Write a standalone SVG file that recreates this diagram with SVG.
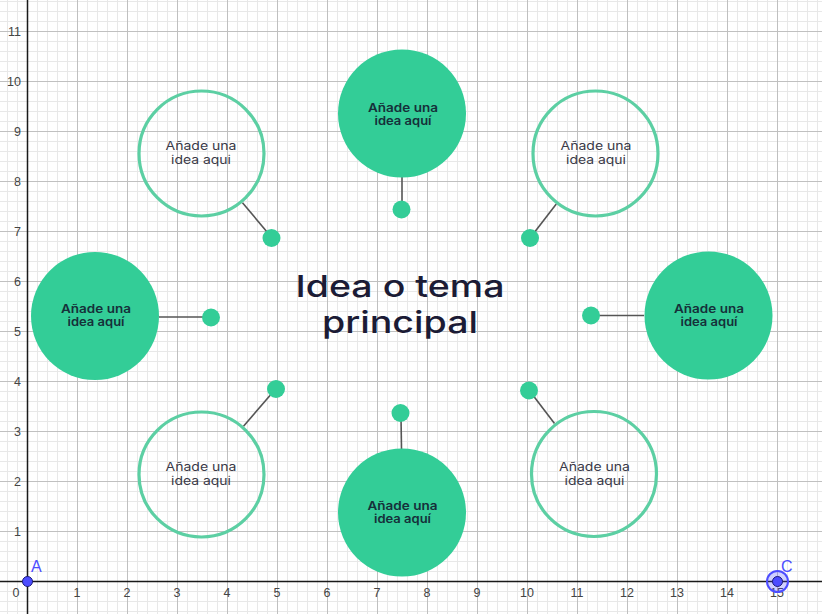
<svg xmlns="http://www.w3.org/2000/svg" width="822" height="614" viewBox="0 0 822 614">
  <style>
    .minor { stroke: #e8e8e8; stroke-width: 1; fill: none; }
    .major { stroke: #c0c0c0; stroke-width: 1; fill: none; }
    .axis { stroke: #1a1a1a; stroke-width: 1.5; }
    .tick { font-family: "Liberation Sans", Arial, sans-serif; font-size: 12.5px; fill: #444; }
    .solid { fill: #33cd97; }
    .ring { fill: none; stroke: #5ccfa3; stroke-width: 3.2; }
    .dot { fill: #33cd97; }
    .conn { stroke: #555; stroke-width: 1.6; fill: none; }
    .t-solid { font-family: Inter, Lato, sans-serif; font-weight: 600; font-size: 11.5px; fill: #16303a; text-anchor: middle; }
    .t-ring { font-family: Inter, Lato, sans-serif; font-weight: 400; font-size: 11.5px; fill: #3a3a48; text-anchor: middle; }
    .title { font-family: Inter, Lato, sans-serif; font-weight: 500; font-size: 30px; fill: #1b1b35; text-anchor: middle; }
    .pt { fill: #4d4dff; stroke: #1a1a7a; stroke-width: 1; }
    .pt-label { font-family: "Liberation Sans", Arial, sans-serif; font-size: 16px; fill: #4d4dff; }
  </style>
  <defs>
    <pattern id="gridMinor" patternUnits="userSpaceOnUse" x="7" y="1" width="10" height="10">
      <path class="minor" d="M0.5 0V10M0 0.5H10"/>
    </pattern>
    <pattern id="gridMajor" patternUnits="userSpaceOnUse" x="27" y="31" width="50" height="50">
      <path class="major" d="M0.5 0V50M0 0.5H50"/>
    </pattern>
  </defs>

  <!-- background grid and axes -->
  <g id="grid">
    <rect width="822" height="614" fill="#ffffff"/>
    <rect width="822" height="614" fill="url(#gridMinor)"/>
    <rect width="822" height="614" fill="url(#gridMajor)"/>
    <line class="axis" x1="0" y1="581.5" x2="822" y2="581.5"/>
    <line class="axis" x1="27.5" y1="0" x2="27.5" y2="614"/>
  </g>

  <g id="axis-labels" class="tick">
    <text x="16" y="597" text-anchor="middle">0</text>
    <g text-anchor="middle">
      <text x="77" y="597">1</text>
      <text x="127" y="597">2</text>
      <text x="177" y="597">3</text>
      <text x="227" y="597">4</text>
      <text x="277" y="597">5</text>
      <text x="327" y="597">6</text>
      <text x="377" y="597">7</text>
      <text x="427" y="597">8</text>
      <text x="477" y="597">9</text>
      <text x="527" y="597">10</text>
      <text x="577" y="597">11</text>
      <text x="627" y="597">12</text>
      <text x="677" y="597">13</text>
      <text x="727" y="597">14</text>
      <text x="777" y="597">15</text>
    </g>
    <g text-anchor="end">
      <text x="21" y="536">1</text>
      <text x="21" y="486">2</text>
      <text x="21" y="436">3</text>
      <text x="21" y="386">4</text>
      <text x="21" y="336">5</text>
      <text x="21" y="286">6</text>
      <text x="21" y="236">7</text>
      <text x="21" y="186">8</text>
      <text x="21" y="136">9</text>
      <text x="21" y="86">10</text>
      <text x="21" y="36">11</text>
    </g>
  </g>

  <!-- connectors between idea bubbles and their dots -->
  <g id="connectors">
    <line class="conn" x1="402" y1="176" x2="402" y2="205"/>
    <line class="conn" x1="242.5" y1="202.7" x2="270" y2="235.5"/>
    <line class="conn" x1="556.3" y1="204" x2="532" y2="235.5"/>
    <line class="conn" x1="159" y1="317" x2="207" y2="317"/>
    <line class="conn" x1="644" y1="315.5" x2="595" y2="315.5"/>
    <line class="conn" x1="243.5" y1="426.3" x2="273" y2="392"/>
    <line class="conn" x1="554.5" y1="423.6" x2="532" y2="394"/>
    <line class="conn" x1="401.5" y1="449" x2="401" y2="417"/>
  </g>

  <g id="center-topic">
    <text class="title" x="400" y="297" textLength="209" lengthAdjust="spacingAndGlyphs">Idea o tema</text>
    <text class="title" x="400" y="333" textLength="156" lengthAdjust="spacingAndGlyphs">principal</text>
  </g>

  <g id="idea-top">
    <circle class="solid" cx="402" cy="113.5" r="64"/>
    <circle class="dot" cx="401.5" cy="209.5" r="9"/>
    <text class="t-solid" x="403" y="112" textLength="70" lengthAdjust="spacingAndGlyphs">Añade una</text>
    <text class="t-solid" x="403" y="125" textLength="57" lengthAdjust="spacingAndGlyphs">idea aquí</text>
  </g>

  <g id="idea-top-left">
    <circle class="ring" cx="201.5" cy="153.5" r="62.5"/>
    <circle class="dot" cx="271.5" cy="238" r="9"/>
    <text class="t-ring" x="201" y="150" textLength="71" lengthAdjust="spacingAndGlyphs">Añade una</text>
    <text class="t-ring" x="201" y="164" textLength="60" lengthAdjust="spacingAndGlyphs">idea aqui</text>
  </g>

  <g id="idea-top-right">
    <circle class="ring" cx="595.5" cy="153.5" r="62.5"/>
    <circle class="dot" cx="530" cy="238" r="9"/>
    <text class="t-ring" x="596" y="150" textLength="71" lengthAdjust="spacingAndGlyphs">Añade una</text>
    <text class="t-ring" x="596" y="164" textLength="60" lengthAdjust="spacingAndGlyphs">idea aqui</text>
  </g>

  <g id="idea-left">
    <circle class="solid" cx="95" cy="316" r="64"/>
    <circle class="dot" cx="211" cy="317.5" r="9"/>
    <text class="t-solid" x="96" y="313" textLength="70" lengthAdjust="spacingAndGlyphs">Añade una</text>
    <text class="t-solid" x="96" y="326" textLength="57" lengthAdjust="spacingAndGlyphs">idea aquí</text>
  </g>

  <g id="idea-right">
    <circle class="solid" cx="708.5" cy="315.5" r="64"/>
    <circle class="dot" cx="591" cy="315.5" r="9"/>
    <text class="t-solid" x="709" y="312.5" textLength="70" lengthAdjust="spacingAndGlyphs">Añade una</text>
    <text class="t-solid" x="709" y="325.5" textLength="57" lengthAdjust="spacingAndGlyphs">idea aquí</text>
  </g>

  <g id="idea-bottom-left">
    <circle class="ring" cx="201.5" cy="474.5" r="62.5"/>
    <circle class="dot" cx="276" cy="389" r="9"/>
    <text class="t-ring" x="201" y="471" textLength="71" lengthAdjust="spacingAndGlyphs">Añade una</text>
    <text class="t-ring" x="201" y="485" textLength="60" lengthAdjust="spacingAndGlyphs">idea aqui</text>
  </g>

  <g id="idea-bottom-right">
    <circle class="ring" cx="594" cy="474" r="62.5"/>
    <circle class="dot" cx="529" cy="390.5" r="9"/>
    <text class="t-ring" x="594.5" y="471" textLength="71" lengthAdjust="spacingAndGlyphs">Añade una</text>
    <text class="t-ring" x="594.5" y="485" textLength="60" lengthAdjust="spacingAndGlyphs">idea aqui</text>
  </g>

  <g id="idea-bottom">
    <circle class="solid" cx="402" cy="512.5" r="64"/>
    <circle class="dot" cx="400.5" cy="413" r="9"/>
    <text class="t-solid" x="402.5" y="509.5" textLength="70" lengthAdjust="spacingAndGlyphs">Añade una</text>
    <text class="t-solid" x="402.5" y="522.5" textLength="57" lengthAdjust="spacingAndGlyphs">idea aquí</text>
  </g>

  <!-- free points on the x axis -->
  <g id="point-A">
    <circle class="pt" cx="27.5" cy="581.5" r="5"/>
    <text class="pt-label" x="31" y="572">A</text>
  </g>
  <g id="point-C">
    <circle cx="777.5" cy="581.5" r="10.5" fill="#4d4dff" fill-opacity="0.25" stroke="#4d4dff" stroke-width="2"/>
    <circle class="pt" cx="777.5" cy="581.5" r="5"/>
    <text class="pt-label" x="781" y="572">C</text>
  </g>
</svg>
